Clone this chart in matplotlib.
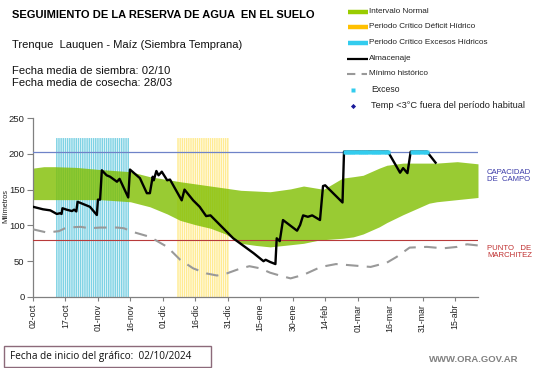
import matplotlib
matplotlib.use("Agg")
import matplotlib.pyplot as plt
from matplotlib.lines import Line2D
import numpy as np

plt.rcParams['font.family'] = ['Liberation Sans', 'DejaVu Sans']

# ---------------- data (days since 02/10/2024) ----------------
tick_labels = ["02-oct", "17-oct", "01-nov", "16-nov", "01-dic", "16-dic", "31-dic",
               "15-ene", "30-ene", "14-feb", "01-mar", "16-mar", "31-mar", "15-abr"]
tick_days = [0, 15, 30, 45, 60, 75, 90, 105, 120, 135, 150, 165, 180, 195]

band_days = [0, 5, 10, 20, 31, 45, 54, 62, 68, 75, 82, 89, 96, 103, 109.5, 119, 125,
             133, 134, 143, 148, 152.5, 160, 163.5, 171, 183, 186.5, 196, 205.6]
band_upper = [180, 182, 182, 181, 178, 175, 168, 164, 161, 158, 155, 152, 149, 148, 147,
              151, 155, 151, 150, 166, 168, 170, 180, 184, 187, 187, 187, 189, 186]
band_lower = [136, 136, 136, 136, 136, 133, 126, 116, 107, 101, 96, 88, 75, 72, 70,
              73, 75, 80, 80, 82, 84, 88, 98, 104, 115, 131, 133, 136, 139]

minhist_days = [0, 6.5, 12, 15.5, 22, 26, 31, 39, 42, 46, 54, 62, 68, 74, 80, 85, 89.6,
                96, 100, 105, 109.5, 114, 119, 125, 133, 140, 148, 156, 163.5, 168, 174,
                182, 189.5, 196, 200.5, 205.6]
minhist_vals = [94.5, 90, 92, 97, 98, 96, 97, 97, 96, 91, 84, 70, 52, 40, 33, 30, 33,
                40, 43, 40, 34, 30, 26, 31, 42, 46, 44, 42, 48, 56, 69, 70, 68, 70, 73.6, 72]

alm_days = [0, 4.6, 8, 11, 12.5, 13.2, 13.6, 15.5, 18, 19, 20, 20.6, 26.3, 29.5, 30, 31,
            31.8, 34, 35.6, 38.8, 40, 44, 44.8, 49.4, 52.6, 54, 55.3, 55.8, 57, 58, 59.5,
            62, 63.3, 68.7, 70, 74, 77, 80, 82, 92.5, 102, 106.5, 107.5, 109.5, 112,
            112.6, 114, 115.5, 122, 123.4, 124.8, 127, 129, 132.6, 134, 135, 143,
            143.7, 164, 169.6, 171, 173, 174.5, 182, 186]
alm_vals = [126, 122.5, 121, 116, 117, 116, 124, 122, 120, 122, 119.5, 133, 126, 114.5,
            136, 136, 177, 170, 168, 161, 165, 139, 178, 166, 145, 145, 168, 163, 176,
            170, 175, 163, 164, 135, 150, 135, 126, 113, 114, 82, 61, 50, 52, 49, 46,
            82, 78, 107.5, 92.6, 100.5, 114, 112, 114, 107.5, 155, 156, 132,
            203, 203, 173.6, 180, 173, 203, 203, 187.6]

exceso_days = list(range(144, 165)) + list(range(175, 183))
exceso_vals = [203] * len(exceso_days)

excess_period_days = list(range(11, 45))
deficit_period_days = list(range(67, 91))
period_bar_height = 222

capacidad_campo = 202
punto_marchitez = 80

# ---------------- figure ----------------
W, H = 541, 368
fig = plt.figure(figsize=(W / 100, H / 100), dpi=100)
ax = fig.add_axes([33 / W, 1 - 297 / H, (478 - 33) / W, (297 - 118) / H])

green = '#99cc00'
b1 = ax.bar(excess_period_days, [period_bar_height] * len(excess_period_days), width=0.68,
            color='#28b4d2', alpha=0.6, lw=0, zorder=1)
b2 = ax.bar(deficit_period_days, [period_bar_height] * len(deficit_period_days), width=0.68,
            color='#ffd71e', alpha=0.48, lw=0, zorder=1)
for p in list(b1) + list(b2):
    p.set_snap(False)

ax.fill_between(band_days, band_lower, band_upper, color='#80bf00', alpha=0.8, lw=0, zorder=2)

ax.axhline(capacidad_campo, color='#6f83c8', lw=0.9, zorder=3)
ax.axhline(punto_marchitez, color='#b83a3a', lw=0.8, zorder=3)

ax.plot(minhist_days, minhist_vals, color='#999999', lw=1.5, dashes=(6, 4), zorder=4)
ax.plot(alm_days, alm_vals, color='black', lw=1.7, zorder=5, solid_joinstyle='round')
ax.plot(exceso_days, exceso_vals, ls='none', marker='s', ms=2.6, mec='none',
        color='#33ccee', zorder=6)

ax.set_xlim(0, 205.6)
ax.set_ylim(0, 250)
ax.set_yticks([0, 50, 100, 150, 200, 250])
ax.set_xticks(tick_days)
ax.set_xticklabels(tick_labels, rotation=90, fontsize=6.3, color='#222222')
ax.tick_params(axis='y', labelsize=6.8, labelcolor='#222222', length=4, width=0.8,
               color='#808080', pad=2)
ax.tick_params(axis='x', length=3, width=0.8, color='#808080', pad=2)
for s in ['top', 'right']:
    ax.spines[s].set_visible(False)
for s in ['left', 'bottom']:
    ax.spines[s].set_color('#808080')
    ax.spines[s].set_linewidth(0.9)

fig.text(6 / W, 1 - 206 / H, 'Milímetros', rotation=90, fontsize=5.3,
         ha='center', va='center', color='#222222')

fig.text(487 / W, 1 - 176 / H, 'CAPACIDAD\nDE  CAMPO', fontsize=5.6, color='#3a3aa8',
         ha='left', va='center', linespacing=1.05)
fig.text(487 / W, 1 - 252 / H, 'PUNTO   DE\nMARCHITEZ', fontsize=5.6, color='#c03030',
         ha='left', va='center', linespacing=1.05)

# ---------------- header texts ----------------
fig.text(12 / W, 1 - 15.5 / H, 'SEGUIMIENTO DE LA RESERVA DE AGUA  EN EL SUELO',
         fontsize=8.0, fontweight='bold', ha='left', va='center')
fig.text(12 / W, 1 - 44.5 / H, 'Trenque  Lauquen - Maíz (Siembra Temprana)',
         fontsize=8.0, ha='left', va='center', color='#111111')
fig.text(12 / W, 1 - 71 / H, 'Fecha media de siembra: 02/10', fontsize=8.1,
         ha='left', va='center', color='#111111')
fig.text(12 / W, 1 - 83.5 / H, 'Fecha media de cosecha: 28/03', fontsize=8.1,
         ha='left', va='center', color='#111111')

# ---------------- legend (manual, figure pixel coords) ----------------
ov = fig.add_axes([0, 0, 1, 1], zorder=10)
ov.set_xlim(0, W)
ov.set_ylim(H, 0)
ov.axis('off')
leg_rows = [11.5, 26.5, 42.5, 58.5, 73.5, 89.5, 105.5]
leg_texts = ['Intervalo Normal', 'Periodo Crítico Déficit Hídrico',
             'Periodo Crítico Excesos Hídricos', 'Almacenaje', 'Mínimo histórico',
             'Exceso', 'Temp <3°C fuera del período habitual']
leg_sizes = [5.9, 5.9, 5.9, 5.9, 5.9, 6.2, 6.7]
ov.add_line(Line2D([348, 368], [leg_rows[0]] * 2, color=green, lw=3.2, solid_capstyle='butt'))
ov.add_line(Line2D([348, 368], [leg_rows[1]] * 2, color='#ffc000', lw=3.2, solid_capstyle='butt'))
ov.add_line(Line2D([348, 368], [leg_rows[2]] * 2, color='#33ccee', lw=3.2, solid_capstyle='butt'))
ov.add_line(Line2D([347, 368], [leg_rows[3]] * 2, color='black', lw=1.6, solid_capstyle='butt'))
ov.add_line(Line2D([347, 367], [leg_rows[4]] * 2, color='#999999', lw=1.5, dashes=(4, 3)))
ov.plot([353], [leg_rows[5]], marker='s', ms=2.2, color='#33ccee', mec='none')
ov.plot([353], [leg_rows[6]], marker='D', ms=2.6, color='#1a1a9a', mec='none')
for i, t in enumerate(leg_texts):
    x0 = 369 if i < 5 else 371
    ov.text(x0, leg_rows[i], t, fontsize=leg_sizes[i], ha='left', va='center', color='#222222')

# ---------------- footer ----------------
ov.add_patch(plt.Rectangle((4, 346), 207, 21, fill=False, ec='#8c6a7a', lw=1.0))
ov.text(10, 357, 'Fecha de inicio del gráfico:  02/10/2024', fontsize=7.2,
        ha='left', va='center', color='#111111', family='Open Sans')
ov.text(518, 359, 'WWW.ORA.GOV.AR', fontsize=6.8, ha='right', va='center',
        color='#808080', fontweight='bold')

fig.savefig('out.png', dpi=100)
